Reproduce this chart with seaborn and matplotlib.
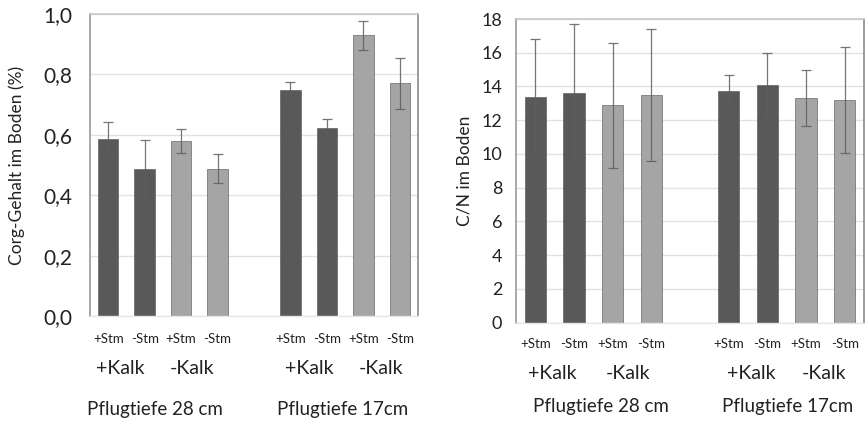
import matplotlib
matplotlib.use("Agg")
import matplotlib.pyplot as plt
import seaborn as sns
import pandas as pd
import numpy as np

# ---- data ----
slots = ["28_K+_S+", "28_K+_S-", "28_K-_S+", "28_K-_S-", "gap",
         "17_K+_S+", "17_K+_S-", "17_K-_S+", "17_K-_S-"]
bar_slots = ["28_K+_S+", "28_K+_S-", "28_K-_S+", "28_K-_S-",
             "17_K+_S+", "17_K+_S-", "17_K-_S+", "17_K-_S-"]
kalk = ["+Kalk", "+Kalk", "-Kalk", "-Kalk", "+Kalk", "+Kalk", "-Kalk", "-Kalk"]
stm_labels = ["+Stm", "-Stm", "+Stm", "-Stm", "", "+Stm", "-Stm", "+Stm", "-Stm"]

corg = [0.585, 0.487, 0.580, 0.487, 0.748, 0.621, 0.930, 0.770]
corg_err = [0.057, 0.095, 0.040, 0.048, 0.026, 0.030, 0.048, 0.085]

cn = [13.40, 13.62, 12.89, 13.50, 13.72, 14.09, 13.34, 13.20]
cn_err = [3.42, 4.08, 3.70, 3.92, 0.96, 1.92, 1.66, 3.12]

kalk_groups = ["+Kalk", "-Kalk", "+Kalk", "-Kalk"]
depth_groups = ["Pflugtiefe 28 cm", "Pflugtiefe 17cm"]

palette = {"+Kalk": "#595959", "-Kalk": "#a5a5a5"}

plt.rcParams["font.family"] = ["Lato", "DejaVu Sans"]

fig = plt.figure(figsize=(8.65, 4.22), dpi=100)
axL = fig.add_axes([90 / 865, 1 - 316 / 422, 328 / 865, 302 / 422])
axR = fig.add_axes([516 / 865, 1 - 322.7 / 422, 348 / 865, 303.7 / 422])


def draw(ax, vals, errs, ylim, yticks, yfmt, ylabel, tick_fs, ytick_pad,
         ylabel_pad, kalk_x, kalk_y, depth_x, depth_y, stm_pad):
    df = pd.DataFrame({"slot": bar_slots, "val": vals, "kalk": kalk})
    sns.barplot(data=df, x="slot", y="val", hue="kalk", order=slots,
                palette=palette, dodge=False, width=0.56, ax=ax,
                edgecolor="#4f4f4f", linewidth=0.4, legend=False, zorder=2)
    pos = [slots.index(s) for s in bar_slots]
    ax.errorbar(pos, vals, yerr=errs, fmt="none", ecolor="#5e5e5e",
                elinewidth=0.9, capsize=3.5, capthick=0.9, zorder=3, alpha=0.85)
    ax.set_xlim(-0.5, len(slots) - 0.5)
    ax.set_ylim(*ylim)
    ax.set_yticks(yticks)
    ax.set_yticklabels([yfmt(v) for v in yticks], fontsize=tick_fs, color="#222222")
    ax.set_xticks(range(len(slots)))
    ax.set_xticklabels(stm_labels, fontsize=9.5, color="#222222")
    ax.tick_params(axis="both", length=0)
    ax.tick_params(axis="x", pad=stm_pad)
    ax.tick_params(axis="y", pad=ytick_pad)
    ax.set_xlabel("")
    ax.set_ylabel(ylabel, fontsize=12.5, color="#222222", labelpad=ylabel_pad)
    ax.yaxis.grid(True, color="#e2e2e2", linewidth=1.0, zorder=0)
    ax.set_axisbelow(True)
    ax.spines["left"].set_color("#9a9a9a")
    ax.spines["left"].set_linewidth(1.2)
    ax.spines["top"].set_color("#c8c8c8")
    ax.spines["top"].set_linewidth(1.2)
    ax.spines["right"].set_color("#8a8a8a")
    ax.spines["right"].set_linewidth(1.2)
    ax.spines["bottom"].set_color("#e6e6e6")
    ax.spines["bottom"].set_linewidth(1.0)
    trans = ax.get_xaxis_transform()
    for x, lab in zip(kalk_x, kalk_groups):
        ax.text(x, kalk_y, lab, transform=trans, ha="center", va="center",
                fontsize=14, color="#222222")
    for x, lab in zip(depth_x, depth_groups):
        ax.text(x, depth_y, lab, transform=trans, ha="center", va="center",
                fontsize=13.5, color="#222222")


draw(axL, corg, corg_err, (0, 1.0), [0, 0.2, 0.4, 0.6, 0.8, 1.0],
     lambda v: f"{v:.1f}".replace(".", ","), "Corg-Gehalt im Boden (%)", 15,
     13, 13, [0.32, 2.30, 5.51, 7.49], -0.175, [1.28, 6.42], -0.31, 12)
draw(axR, cn, cn_err, (0, 18), list(range(0, 19, 2)),
     lambda v: f"{v:d}", "C/N im Boden", 13,
     10, 6, [0.43, 2.40, 5.58, 7.46], -0.166, [1.70, 6.53], -0.275, 11)

fig.savefig("out.png", dpi=100)
